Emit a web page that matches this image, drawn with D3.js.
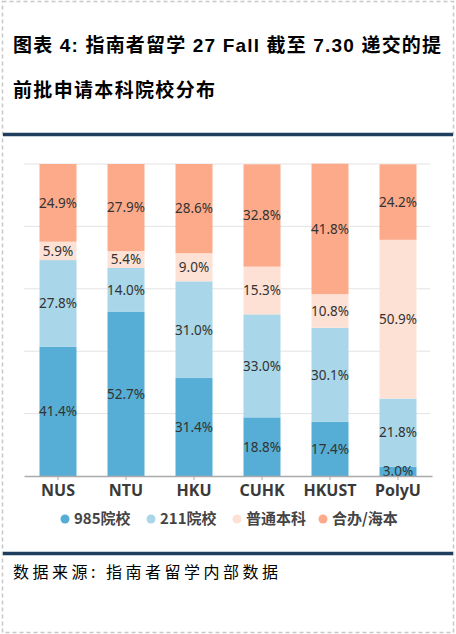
<!DOCTYPE html>
<html>
<head>
<meta charset="utf-8">
<script src="https://cdn.jsdelivr.net/npm/d3@7"></script>
<style>
  body { margin: 0; background: #fff; }
  svg { display: block; }
</style>
</head>
<body>
<div id="chart"></div>
<script>
// data
const schools = ["NUS", "NTU", "HKU", "CUHK", "HKUST", "PolyU"];
const seriesNames = ["985院校", "211院校", "普通本科", "合办/海本"];
const s985 = [41.4, 52.7, 31.4, 18.8, 17.4, 3.0];
const s211 = [27.8, 14.0, 31.0, 33.0, 30.1, 21.8];
const sNormal = [5.9, 5.4, 9.0, 15.3, 10.8, 50.9];
const sJoint = [24.9, 27.9, 28.6, 32.8, 41.8, 24.2];
const yTicks = [0, 20, 40, 60, 80, 100];

const colors = ["#56aed6", "#a9d6e8", "#fde1d4", "#fcaa8a"];

const width = 456, height = 634;
const margin = {top: 164, right: 24, bottom: 156, left: 24};

const svg = d3.select("#chart").append("svg")
    .attr("width", width)
    .attr("height", height);

// outer dashed frame
svg.append("rect")
    .attr("x", 2.5).attr("y", 1.5)
    .attr("width", width - 5).attr("height", height - 3)
    .attr("fill", "none")
    .attr("stroke", "#c8c8c8")
    .attr("stroke-width", 1.5)
    .attr("stroke-dasharray", "4,3");

// title
const titleFont = "'Liberation Sans', 'Noto Sans CJK SC', sans-serif";
svg.append("text")
    .attr("x", 13).attr("y", 52)
    .attr("font-family", titleFont)
    .attr("font-weight", "bold")
    .attr("font-size", 19)
    .attr("fill", "#000")
    .attr("textLength", 428)
    .attr("lengthAdjust", "spacing")
    .text("图表 4: 指南者留学 27 Fall 截至 7.30 递交的提");
svg.append("text")
    .attr("x", 13).attr("y", 97)
    .attr("font-family", titleFont)
    .attr("font-weight", "bold")
    .attr("font-size", 19)
    .attr("fill", "#000")
    .attr("textLength", 202)
    .attr("lengthAdjust", "spacing")
    .text("前批申请本科院校分布");

// navy rules
[134.5, 553.5].forEach(yy => {
  svg.append("line")
      .attr("x1", 3).attr("x2", width - 3)
      .attr("y1", yy).attr("y2", yy)
      .attr("stroke", "#1f3d5c")
      .attr("stroke-width", 3.5);
});

// source
svg.append("text")
    .attr("x", 13).attr("y", 578)
    .attr("font-family", "'Noto Sans CJK SC', sans-serif")
    .attr("font-size", 16)
    .attr("fill", "#000")
    .attr("textLength", 265)
    .attr("lengthAdjust", "spacing")
    .text("数据来源:  指南者留学内部数据");

// scales
const x = d3.scaleBand()
    .domain(schools)
    .range([margin.left, width - margin.right])
    .paddingInner(0.456)
    .paddingOuter(0.228);

const y = d3.scaleLinear()
    .domain([0, 100])
    .range([height - margin.bottom - 2, margin.top]);

// gridlines
svg.append("g")
    .selectAll("line")
    .data(yTicks.slice(1))
    .join("line")
      .attr("x1", margin.left).attr("x2", width - margin.right - 2)
      .attr("y1", d => y(d)).attr("y2", d => y(d))
      .attr("stroke", "#e3e3e3")
      .attr("stroke-width", 1);

// stack
const table = schools.map((s, i) => ({
  school: s,
  "985院校": s985[i],
  "211院校": s211[i],
  "普通本科": sNormal[i],
  "合办/海本": sJoint[i]
}));
const stacked = d3.stack().keys(seriesNames)(table);

const layers = svg.append("g")
    .selectAll("g")
    .data(stacked)
    .join("g")
      .attr("fill", (d, i) => colors[i]);

layers.selectAll("rect")
    .data(d => d)
    .join("rect")
      .attr("x", d => x(d.data.school))
      .attr("y", d => y(d[1]))
      .attr("width", x.bandwidth())
      .attr("height", d => y(d[0]) - y(d[1]));

// value labels
const labelFont = "'Noto Sans', sans-serif";
svg.append("g")
    .selectAll("g")
    .data(stacked)
    .join("g")
    .selectAll("text")
    .data(d => d)
    .join("text")
      .attr("x", d => x(d.data.school) + x.bandwidth() / 2)
      .attr("y", d => y((d[0] + d[1]) / 2))
      .attr("dy", "0.36em")
      .attr("text-anchor", "middle")
      .attr("font-family", labelFont)
      .attr("font-size", 13.5)
      .attr("fill", "#333")
      .text(d => (d[1] - d[0]).toFixed(1) + "%");

// x axis
const xAxis = svg.append("g")
    .attr("transform", `translate(0,${y(0)})`)
    .call(d3.axisBottom(x).tickSize(4).tickSizeOuter(0));
xAxis.select(".domain").attr("stroke", "#aaa").attr("stroke-width", 1.5);
xAxis.selectAll(".tick line").attr("stroke", "#aaa");
xAxis.selectAll(".tick text")
    .attr("dy", "0.71em")
    .attr("y", 9)
    .attr("font-family", "'Noto Sans', sans-serif")
    .attr("font-weight", "bold")
    .attr("font-size", 16)
    .attr("fill", "#3a3a3a");

// legend
const legendX = [65, 151, 237, 323];
const legend = svg.append("g")
    .selectAll("g")
    .data(seriesNames)
    .join("g")
      .attr("transform", (d, i) => `translate(${legendX[i]},519)`);
legend.append("circle")
    .attr("r", 4.5)
    .attr("fill", (d, i) => colors[i]);
legend.append("text")
    .attr("x", 9)
    .attr("dy", "0.36em")
    .attr("font-family", "'Noto Sans CJK SC', sans-serif")
    .attr("font-size", 15)
    .attr("font-weight", "bold")
    .attr("fill", "#444")
    .text(d => d);
</script>
</body>
</html>
